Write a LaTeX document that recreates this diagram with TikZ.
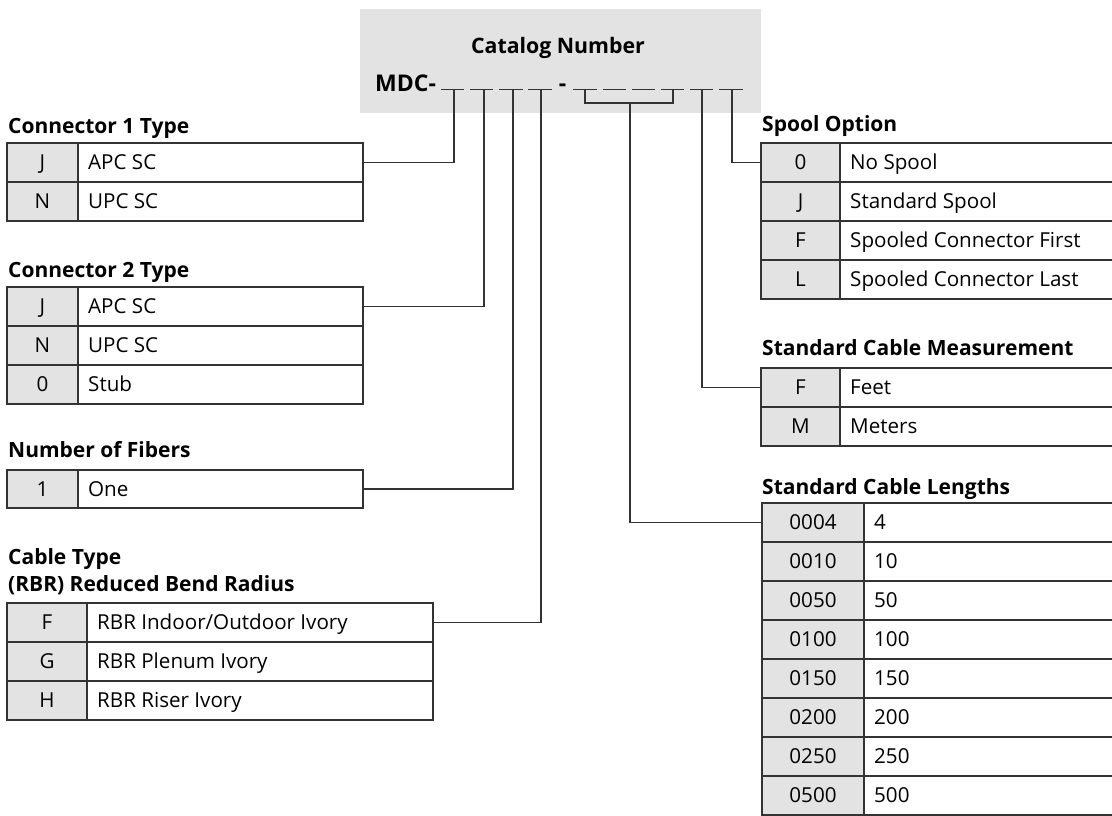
\documentclass[tikz,border=0pt]{standalone}
\usepackage{fontspec}
\setmainfont{Open Sans}
\definecolor{lncol}{HTML}{333333}
\definecolor{keygray}{HTML}{E3E3E3}
\newcommand\cellfont{\fontsize{20.6}{24}\selectfont}
\newcommand\titlefont{\fontsize{21}{25}\selectfont\bfseries}
\tikzset{
  cellbase/.style={draw=lncol, line width=1.1pt, anchor=north west, inner sep=0pt, outer sep=0pt},
  keycell/.style={cellbase, fill=keygray, font=\cellfont, text=black, text height=14.6pt, text depth=0pt},
  valcell/.style={cellbase, fill=white},
  valtext/.style={anchor=west, inner sep=0pt, font=\cellfont, text height=14.6pt, text depth=0pt},
  ttl/.style={anchor=base west, inner sep=0pt, font=\titlefont},
  ln/.style={draw=lncol, line width=1.1pt},
}
\newcommand\trow[8]{%
  \node[keycell, minimum width=#4pt, minimum height=#6pt] (#1k) at (#2,#3) {#7};
  \node[valcell, minimum width=#5pt, minimum height=#6pt] (#1v) at (#1k.north east) {};
  \node[valtext] (#1t) at ([xshift=10pt]#1v.west) {#8};
}
\begin{document}
\begin{tikzpicture}[x=1pt, y=-1pt]
\useasboundingbox (0,0) rectangle (1112,815);
% catalog box
\node[fill=keygray, anchor=north west, inner sep=0pt, minimum width=401pt, minimum height=104pt] (cat) at (360,9) {};
\node[anchor=base, inner sep=0pt, font=\fontsize{21.3}{25}\selectfont\bfseries] (catt) at (558,53) {Catalog Number};
\node[anchor=base west, inner sep=0pt, font=\fontsize{23}{27}\selectfont\bfseries] (mdc) at (375,91) {MDC-};
\node[anchor=base, inner sep=0pt, font=\fontsize{23}{27}\selectfont\bfseries] (hyph) at (562.5,91) {-};
% digit slots
\foreach \a/\b [count=\i] in {441/464,470/493,499/523,528/552,573/597,603/626,632/655,661/684,690/713,719/743}{
  \draw[ln] (\a,89.5) -- (\b,89.5);
}
\coordinate (s1) at (454,89.5);
\coordinate (s2) at (484,89.5);
\coordinate (s3) at (513,89.5);
\coordinate (s4) at (541,89.5);
\coordinate (b5) at (585,89.5);
\coordinate (b8) at (673,89.5);
\coordinate (bm) at (630,103);
\coordinate (s9) at (702,89.5);
\coordinate (s10) at (732,89.5);

% Connector 1
\node[ttl] (t1) at (8,133) {Connector 1 Type};
\trow{c1a}{7}{143}{71}{285}{39}{J}{APC SC}
\trow{c1b}{7}{182}{71}{285}{39}{N}{UPC SC}
% Connector 2
\node[ttl] (t2) at (8,277) {Connector 2 Type};
\trow{c2a}{7}{287}{71}{285}{39}{J}{APC SC}
\trow{c2b}{7}{326}{71}{285}{39}{N}{UPC SC}
\trow{c2c}{7}{365}{71}{285}{39}{0}{Stub}
% Fibers
\node[ttl] (t3) at (8,457) {Number of Fibers};
\trow{f1}{7}{470}{71}{285}{38}{1}{One}
% Cable type
\node[ttl] (t4) at (8,564) {Cable Type};
\node[ttl] (t4b) at (8,591) {(RBR) Reduced Bend Radius};
\trow{cta}{7}{603}{80}{346}{39}{F}{RBR Indoor/Outdoor Ivory}
\trow{ctb}{7}{642}{80}{346}{39}{G}{RBR Plenum Ivory}
\trow{ctc}{7}{681}{80}{346}{39}{H}{RBR Riser Ivory}
% Spool
\node[ttl] (t5) at (762,131) {Spool Option};
\trow{spa}{761}{143}{79}{273}{39}{0}{No Spool}
\trow{spb}{761}{182}{79}{273}{39}{J}{Standard Spool}
\trow{spc}{761}{221}{79}{273}{39}{F}{Spooled Connector First}
\trow{spd}{761}{260}{79}{273}{39}{L}{Spooled Connector Last}
% Measurement
\node[ttl] (t6) at (762,355) {Standard Cable Measurement};
\trow{ma}{761}{368}{79}{273}{39}{F}{Feet}
\trow{mb}{761}{407}{79}{273}{39}{M}{Meters}
% Lengths
\node[ttl] (t7) at (762,494) {Standard Cable Lengths};
\trow{la}{762}{503}{102}{250}{39}{0004}{4}
\trow{lb}{762}{542}{102}{250}{39}{0010}{10}
\trow{lc}{762}{581}{102}{250}{39}{0050}{50}
\trow{ld}{762}{620}{102}{250}{39}{0100}{100}
\trow{le}{762}{659}{102}{250}{39}{0150}{150}
\trow{lf}{762}{698}{102}{250}{39}{0200}{200}
\trow{lg}{762}{737}{102}{250}{39}{0250}{250}
\trow{lh}{762}{776}{102}{250}{39}{0500}{500}

% connectors
\draw[ln] (c1av.east) -| (s1);
\draw[ln] (c2av.east) -| (s2);
\draw[ln] (f1v.east) -| (s3);
\draw[ln] (ctav.east) -| (s4);
\draw[ln] (b5) |- (bm) -| (b8);
\draw[ln] (lak.west) -| (bm);
\draw[ln] (mak.west) -| (s9);
\draw[ln] (spak.west) -| (s10);
\end{tikzpicture}
\end{document}
